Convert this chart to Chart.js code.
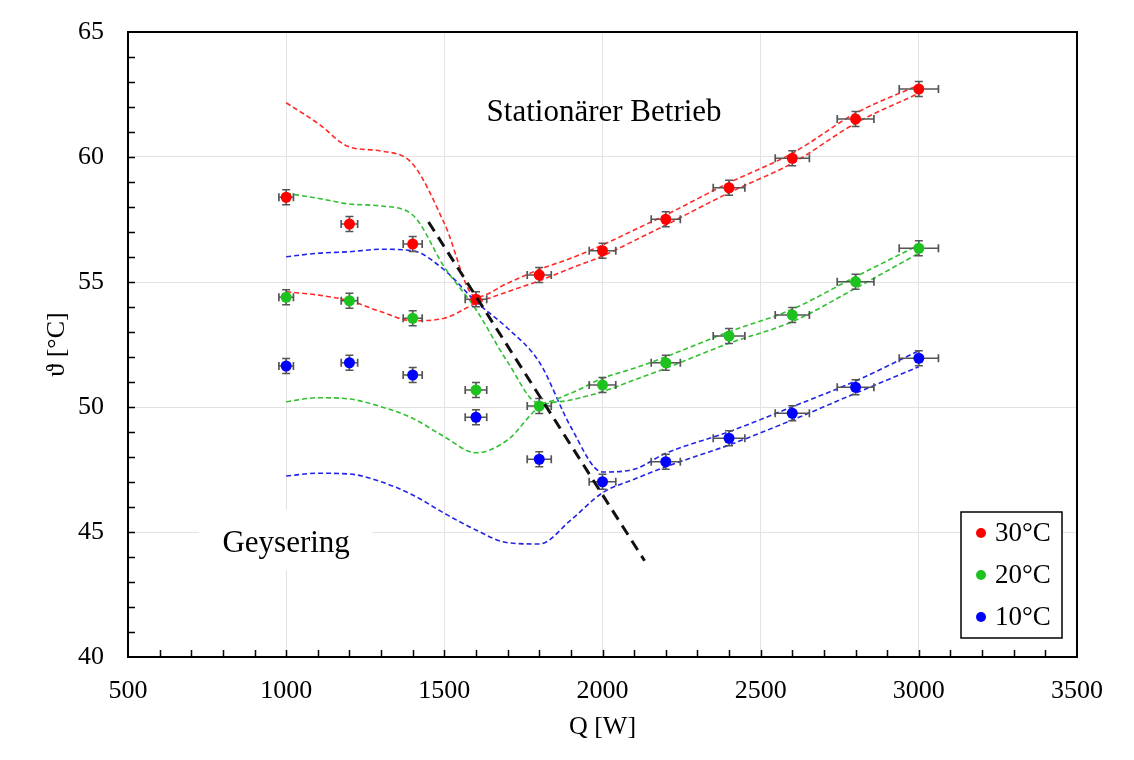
<!DOCTYPE html>
<html>
<head>
<meta charset="utf-8">
<script src="https://cdn.jsdelivr.net/npm/chart.js@4.4.0/dist/chart.umd.min.js"></script>
<style>
  html, body { margin: 0; padding: 0; background: #fff; }
  #wrap { width: 1134px; height: 760px; }
</style>
</head>
<body>
<div id="wrap"><canvas id="chart" width="1134" height="760"></canvas></div>
<script>
'use strict';

// Messpunkte
const heat = [1000, 1200, 1400, 1600, 1800, 2000, 2200, 2400, 2600, 2800, 3000];
const temp30 = [58.39, 57.32, 56.52, 54.31, 55.28, 56.25, 57.51, 58.77, 59.95, 61.52, 62.72];
const temp20 = [54.39, 54.25, 53.55, 50.68, 50.04, 50.88, 51.77, 52.84, 53.68, 55.01, 56.35];
const temp10 = [51.64, 51.77, 51.28, 49.59, 47.91, 47.01, 47.81, 48.75, 49.75, 50.79, 51.95];
const heatErr = [23, 26, 30, 34, 38, 42, 46, 50, 54, 58, 62];
const tempErr = 0.3;

// Grenzkurven (obere / untere)
const curveHeat = [1000, 1100, 1200, 1300, 1400, 1500, 1600, 1700, 1800, 1900, 2000, 2100, 2200, 2400, 2600, 2800, 3000];
const red30Up = [62.17, 61.35, 60.40, 60.24, 59.72, 57.35, 54.40, 54.95, 55.50, 55.95, 56.48, 57.08, 57.68, 58.97, 60.15, 61.75, 62.88];
const red30Lo = [54.61, 54.48, 54.25, 53.81, 53.45, 53.55, 54.15, 54.61, 55.05, 55.55, 56.04, 56.65, 57.28, 58.57, 59.75, 61.35, 62.55];
const green20Up = [58.55, 58.35, 58.12, 58.04, 57.68, 55.60, 53.90, 51.80, 50.15, 50.55, 51.15, 51.55, 52.01, 53.01, 53.91, 55.21, 56.48];
const green20Lo = [50.21, 50.37, 50.32, 50.01, 49.55, 48.81, 48.17, 48.68, 49.99, 50.28, 50.61, 51.08, 51.55, 52.55, 53.41, 54.75, 56.15];
const blue10Up = [56.01, 56.15, 56.21, 56.31, 56.25, 55.48, 54.21, 53.15, 51.80, 49.20, 47.40, 47.51, 48.15, 49.01, 50.01, 51.04, 52.25];
const blue10Lo = [47.24, 47.35, 47.32, 47.01, 46.48, 45.75, 45.08, 44.57, 44.52, 45.48, 46.57, 47.11, 47.61, 48.48, 49.48, 50.55, 51.61];

// Trennlinie Geysering / stationär
const borderHeat = [1450, 2133];
const borderTemp = [57.4, 43.85];

const FONT = "'Liberation Serif', 'Times New Roman', serif";
const RED = '#ff0000', GREEN = '#1ec21e', BLUE = '#0000ff';

const pts = (xs, ys) => xs.map((x, i) => ({ x, y: ys[i] }));

const curve = (ys, color) => ({
  data: pts(curveHeat, ys),
  showLine: true,
  borderColor: color,
  borderWidth: 1.6,
  borderDash: [5, 3],
  pointRadius: 0,
  cubicInterpolationMode: 'monotone',
  fill: false,
});

const marks = (label, ys, color) => ({
  label,
  data: pts(heat, ys),
  showLine: false,
  pointRadius: 5.5,
  pointBackgroundColor: color,
  pointBorderWidth: 0,
  backgroundColor: color,
  errX: heatErr,
  errY: tempErr,
});

const errorBars = {
  id: 'errorBars',
  beforeDatasetDraw(chart, args) {
    const ds = chart.data.datasets[args.index];
    if (!ds.errX) return;
    const { ctx, scales: { x, y } } = chart;
    ctx.save();
    ctx.strokeStyle = '#555';
    ctx.lineWidth = 1.7;
    ds.data.forEach((p, i) => {
      const px = x.getPixelForValue(p.x), py = y.getPixelForValue(p.y);
      const x0 = x.getPixelForValue(p.x - ds.errX[i]), x1 = x.getPixelForValue(p.x + ds.errX[i]);
      const y0 = y.getPixelForValue(p.y - ds.errY), y1 = y.getPixelForValue(p.y + ds.errY);
      ctx.beginPath();
      ctx.moveTo(x0, py); ctx.lineTo(x1, py);
      ctx.moveTo(px, y0); ctx.lineTo(px, y1);
      ctx.moveTo(x0, py - 4); ctx.lineTo(x0, py + 4);
      ctx.moveTo(x1, py - 4); ctx.lineTo(x1, py + 4);
      ctx.moveTo(px - 4, y0); ctx.lineTo(px + 4, y0);
      ctx.moveTo(px - 4, y1); ctx.lineTo(px + 4, y1);
      ctx.stroke();
    });
    ctx.restore();
  }
};

const labels = {
  id: 'labels',
  beforeDatasetsDraw(chart) {
    const { ctx, scales: { x, y } } = chart;
    // weisser Kasten hinter "Geysering"
    const l = x.getPixelForValue(724), r = x.getPixelForValue(1271);
    const t = y.getPixelForValue(45.88), b = y.getPixelForValue(43.48);
    ctx.save();
    ctx.fillStyle = '#fff';
    ctx.fillRect(l, t, r - l, b - t);
    ctx.fillStyle = '#000';
    ctx.font = `31px ${FONT}`;
    ctx.textAlign = 'center';
    ctx.textBaseline = 'alphabetic';
    ctx.fillText('Geysering', x.getPixelForValue(1000), y.getPixelForValue(44.2));
    ctx.textBaseline = 'middle';
    ctx.fillText('Stationärer Betrieb', x.getPixelForValue(2005), y.getPixelForValue(61.75));
    ctx.restore();
  }
};

const frame = {
  id: 'frame',
  afterDatasetsDraw(chart) {
    const { ctx, chartArea: a, scales: { x, y } } = chart;
    ctx.save();
    ctx.strokeStyle = '#000';
    ctx.lineWidth = 1.5;
    ctx.beginPath();
    for (let v = 600; v < 3500; v += 100) {
      const px = Math.round(x.getPixelForValue(v)) + 0.5;
      ctx.moveTo(px, a.bottom); ctx.lineTo(px, a.bottom - 7);
    }
    for (let v = 41; v < 65; v += 1) {
      const py = Math.round(y.getPixelForValue(v)) + 0.5;
      ctx.moveTo(a.left, py); ctx.lineTo(a.left + 7, py);
    }
    ctx.stroke();
    ctx.lineWidth = 2;
    ctx.strokeRect(a.left, a.top, a.right - a.left, a.bottom - a.top);
    ctx.restore();
  },
  afterDraw(chart) {
    // Legende unten rechts
    const { ctx, chartArea: a } = chart;
    const w = 101, h = 126;
    const left = a.right - 15 - w, top = a.bottom - 19 - h;
    ctx.save();
    ctx.fillStyle = '#fff';
    ctx.fillRect(left, top, w, h);
    ctx.strokeStyle = '#000';
    ctx.lineWidth = 1.5;
    ctx.strokeRect(left, top, w, h);
    ctx.font = `27px ${FONT}`;
    ctx.textBaseline = 'middle';
    ctx.textAlign = 'left';
    chart.data.datasets.filter(d => d.label).forEach((d, i) => {
      const cy = top + 21 + i * 42;
      ctx.fillStyle = d.pointBackgroundColor;
      ctx.beginPath();
      ctx.arc(left + 20, cy, 5, 0, Math.PI * 2);
      ctx.fill();
      ctx.fillStyle = '#000';
      ctx.fillText(d.label, left + 34, cy + 1);
    });
    ctx.restore();
  }
};

new Chart(document.getElementById('chart'), {
  type: 'scatter',
  data: {
    datasets: [
      {
        data: pts(borderHeat, borderTemp),
        showLine: true,
        borderColor: '#111',
        borderWidth: 3,
        borderDash: [11, 7],
        pointRadius: 0,
        fill: false,
      },
      marks('30°C', temp30, RED),
      marks('20°C', temp20, GREEN),
      marks('10°C', temp10, BLUE),
      curve(red30Up, '#ff2a2a'),
      curve(red30Lo, '#ff2a2a'),
      curve(green20Up, '#30c030'),
      curve(green20Lo, '#30c030'),
      curve(blue10Up, '#2424e6'),
      curve(blue10Lo, '#2424e6'),
    ]
  },
  options: {
    responsive: false,
    animation: false,
    devicePixelRatio: 1,
    layout: { padding: { top: 32, right: 57, left: 0, bottom: 0 } },
    plugins: { legend: { display: false }, tooltip: { enabled: false } },
    scales: {
      x: {
        type: 'linear', min: 500, max: 3500,
        ticks: { stepSize: 500, color: '#000', padding: 19, font: { family: FONT, size: 26 }, callback: v => String(v) },
        grid: { color: '#e3e3e3', drawTicks: false },
        border: { display: false },
        title: { display: true, text: 'Q [W]', color: '#000', padding: { top: 0, bottom: 17 }, font: { family: FONT, size: 26 } },
        afterFit: s => { s.height = 103; s.paddingLeft = 0; s.paddingRight = 0; },
      },
      y: {
        min: 40, max: 65,
        ticks: { stepSize: 5, color: '#000', padding: 24, font: { family: FONT, size: 26 } },
        grid: { color: '#e3e3e3', drawTicks: false },
        border: { display: false },
        title: { display: true, text: 'ϑ [°C]', color: '#000', padding: { top: 42, bottom: 0 }, font: { family: FONT, size: 26 } },
        afterFit: s => { s.width = 128; s.paddingTop = 0; s.paddingBottom = 0; },
      }
    }
  },
  plugins: [errorBars, labels, frame]
});
</script>
</body>
</html>
